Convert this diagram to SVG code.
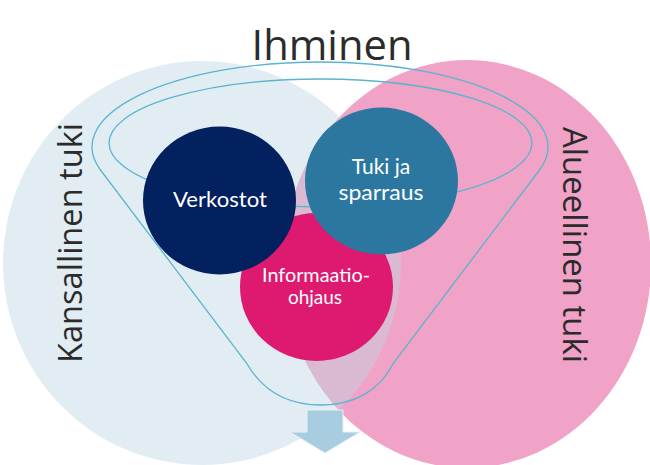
<svg xmlns="http://www.w3.org/2000/svg" width="650" height="465" viewBox="0 0 650 465">
  <style>
    .big { font-family: "Open Sans", "Liberation Sans", sans-serif; fill: #2b2b2b; }
    .lbl { font-family: Lato, "Open Sans", "Liberation Sans", sans-serif; fill: #ffffff; text-anchor: middle; }
    .funnel { fill: none; stroke: #5ab4cf; stroke-width: 1.3; }
  </style>
  <rect width="650" height="465" fill="#ffffff"/>
  <g id="alueellinen-tuki">
    <ellipse cx="467" cy="264" rx="184" ry="204" fill="#f0a3c6"/>
  </g>
  <g id="kansallinen-tuki">
    <ellipse cx="202" cy="263" rx="199" ry="202" fill="#bdd6e4" fill-opacity="0.44"/>
  </g>
  <g id="funnel">
    <path class="funnel" d="M100.5,170 A228,85 0 1 1 539.5,170 L393.5,363 C380,390 355,405 321,405 C287,405 262,390 246.5,363 Z"/>
    <ellipse class="funnel" cx="320.5" cy="143" rx="211.5" ry="64"/>
  </g>
  <g id="informaatio-ohjaus">
    <ellipse cx="316.5" cy="287" rx="76.5" ry="74" fill="#dd1a70"/>
    <text class="lbl" x="316" y="282" font-size="19" textLength="108" lengthAdjust="spacingAndGlyphs">Informaatio-</text>
    <text class="lbl" x="315" y="304" font-size="19">ohjaus</text>
  </g>
  <g id="verkostot">
    <ellipse cx="219.5" cy="200.5" rx="76.5" ry="74" fill="#03205f"/>
    <text class="lbl" x="220" y="207" font-size="21" textLength="94" lengthAdjust="spacingAndGlyphs">Verkostot</text>
  </g>
  <g id="tuki-ja-sparraus">
    <ellipse cx="381.5" cy="181" rx="76.5" ry="73.5" fill="#2c77a0"/>
    <text class="lbl" x="381" y="174" font-size="21">Tuki ja</text>
    <text class="lbl" x="381" y="200" font-size="21" textLength="85" lengthAdjust="spacingAndGlyphs">sparraus</text>
  </g>
  <g id="connectors">
    <path d="M307,410 H343 V432 H360 L325,453 L290,432 H307 Z" fill="#a9cde0" stroke="#e6f0f5" stroke-width="1"/>
  </g>
  <g id="titles">
    <text class="big" x="332" y="59.5" font-size="42" text-anchor="middle" textLength="161" lengthAdjust="spacingAndGlyphs">Ihminen</text>
    <text class="big" font-size="32" text-anchor="middle" transform="translate(82,243) rotate(-90)" textLength="240" lengthAdjust="spacingAndGlyphs">Kansallinen tuki</text>
    <text class="big" font-size="32" text-anchor="middle" transform="translate(563,245) rotate(90)" textLength="236" lengthAdjust="spacingAndGlyphs">Alueellinen tuki</text>
  </g>
</svg>
